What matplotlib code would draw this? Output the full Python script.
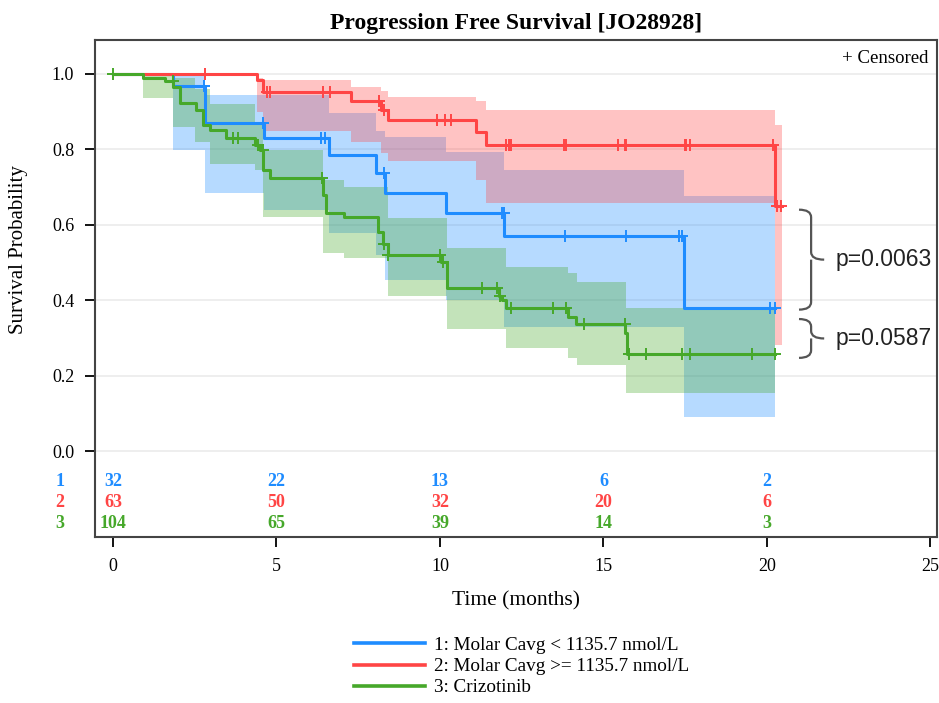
import numpy as np
import matplotlib
matplotlib.use('Agg')
import matplotlib.pyplot as plt
from matplotlib.path import Path
from matplotlib.patches import PathPatch
from matplotlib.lines import Line2D

plt.rcParams['font.family'] = ['Liberation Serif', 'DejaVu Serif']

# ── data ─────────────────────────────────────────────────────────────── #
# group 1: Molar Cavg < 1135.7
t1 = [0, 1.84, 2.8, 4.62, 6.6, 8.05, 8.33, 10.17, 11.97, 17.45]
s1 = [1.0, 0.969, 0.869, 0.829, 0.785, 0.738, 0.683, 0.630, 0.571, 0.380]
hi1 = [1.0, 0.995, 0.944, 0.944, 0.896, 0.85, 0.834, 0.794, 0.745, 0.675]
lo1 = [1.0, 0.798, 0.684, 0.64, 0.578, 0.52, 0.454, 0.40, 0.33, 0.091]
end1 = 20.26
cens1 = [2.78, 4.58, 6.37, 6.47, 8.3, 11.9, 11.95, 13.83, 15.68, 17.3, 17.4, 20.08, 20.24]

# group 2: Molar Cavg >= 1135.7
t2 = [0, 4.39, 4.6, 7.29, 8.2, 8.4, 11.1, 11.4, 20.26]
s2 = [1.0, 0.984, 0.952, 0.927, 0.905, 0.878, 0.845, 0.812, 0.65]
hi2 = [1.0, 0.99, 0.984, 0.966, 0.955, 0.94, 0.927, 0.904, 0.865]
lo2 = [1.0, 0.90, 0.85, 0.82, 0.79, 0.77, 0.72, 0.657, 0.281]
end2 = 20.47
cens2 = [2.8, 4.7, 4.8, 6.42, 6.63, 8.15, 8.3, 9.92, 10.15, 10.35, 12.02, 12.1, 12.17,
         13.8, 13.85, 15.45, 15.65, 15.7, 17.48, 17.52, 17.65, 20.18, 20.3, 20.42]

# group 3: Crizotinib
t3 = [0, 0.93, 1.59, 1.85, 2.05, 2.55, 2.76, 2.96, 3.47, 4.34, 4.5, 4.6, 4.79, 6.42,
      6.5, 7.08, 8.1, 8.25, 8.4, 10.04, 10.2, 11.8, 11.9, 12.02, 13.9, 14.16, 15.66, 15.72]
s3 = [1.0, 0.99, 0.98, 0.966, 0.922, 0.904, 0.865, 0.851, 0.829, 0.812, 0.798, 0.745,
      0.723, 0.68, 0.630, 0.62, 0.58, 0.55, 0.52, 0.502, 0.432, 0.41, 0.40, 0.378,
      0.356, 0.336, 0.312, 0.257]
bt3 = [0, 0.93, 1.84, 2.5, 2.96, 4.34, 4.6, 6.42, 7.08, 8.4, 10.2, 12.02, 13.9, 14.2, 15.7]
hi3 = [1.0, 1.0, 0.99, 0.96, 0.92, 0.865, 0.798, 0.72, 0.70, 0.617, 0.538, 0.489,
       0.471, 0.449, 0.378]
lo3 = [1.0, 0.935, 0.86, 0.82, 0.76, 0.745, 0.62, 0.524, 0.511, 0.41, 0.323, 0.272,
       0.246, 0.228, 0.153]
end3 = 20.26
cens3 = [0.0, 1.84, 3.67, 3.83, 4.45, 4.58, 6.4, 8.3, 8.42, 10.0, 10.1, 11.3, 11.75,
         11.85, 12.17, 13.45, 13.85, 14.41, 15.65, 15.77, 16.3, 17.41, 17.65, 19.55, 20.24]

risk_times = [0, 5, 10, 15, 20]
risk1 = [32, 22, 13, 6, 2]
risk2 = [63, 50, 32, 20, 6]
risk3 = [104, 65, 39, 14, 3]

labels = ['1: Molar Cavg < 1135.7 nmol/L', '2: Molar Cavg >= 1135.7 nmol/L', '3: Crizotinib']
p_values = ['p=0.0063', 'p=0.0587']

BLUE, RED, GREEN = '#1E8CFF', '#FF4545', '#46A82A'

groups = [
    (t1, s1, t1, lo1, hi1, end1, cens1, BLUE),
    (t2, s2, t2, lo2, hi2, end2, cens2, RED),
    (t3, s3, bt3, lo3, hi3, end3, cens3, GREEN),
]


def step_at(times, vals, q):
    idx = np.searchsorted(times, q, side='right') - 1
    return np.asarray(vals)[idx]


fig = plt.figure(figsize=(9.39, 7.03), dpi=100)
ax = fig.add_axes([95 / 939, 1 - 537 / 703, (937 - 95) / 939, (537 - 40) / 703])

# bands first
for t, s, bt, lo, hi, end, cens, c in groups:
    bx = np.append(bt, end)
    ax.fill_between(bx, np.append(lo, lo[-1]), np.append(hi, hi[-1]), step='post',
                    color=c, alpha=0.32, lw=0, zorder=2)

for t, s, bt, lo, hi, end, cens, c in groups:
    ax.step(np.append(t, end), np.append(s, s[-1]), where='post', color=c, lw=2.2, zorder=4)
    ax.plot(cens, step_at(t, s, np.array(cens)), '+', color=c, ms=9, mew=1.4, zorder=5)

# at-risk table
for row, (risk, c) in enumerate(zip([risk1, risk2, risk3], [BLUE, RED, GREEN])):
    yy = -0.08 - row * 0.0555
    ax.text(-1.62, yy, str(row + 1), color=c, fontsize=13, fontweight='bold',
            ha='center', va='center', clip_on=False)
    for xt, n in zip(risk_times, risk):
        ax.text(xt, yy, str(n), color=c, fontsize=13, fontweight='bold',
                ha='center', va='center')


# braces with p-values
def brace(ax, ytop, ybot, x0=20.98, xm=21.35, xt=21.75, r=0.02):
    mid = (ytop + ybot) / 2
    verts = [(x0, ytop), (xm, ytop), (xm, ytop - r), (xm, mid + r), (xm, mid), (xt, mid),
             (xm, mid), (xm, mid - r), (xm, ybot + r), (xm, ybot), (x0, ybot)]
    codes = [Path.MOVETO, Path.CURVE3, Path.CURVE3, Path.LINETO, Path.CURVE3, Path.CURVE3,
             Path.MOVETO, Path.CURVE3, Path.LINETO, Path.CURVE3, Path.CURVE3]
    ax.add_patch(PathPatch(Path(verts, codes), fill=False, ec='#555555', lw=1.6, zorder=6))
    return mid


m1 = brace(ax, s2[-1] - 0.01, s1[-1] - 0.005)
m2 = brace(ax, s1[-1] - 0.03, s3[-1] - 0.01)
for m, p in zip([m1, m2], p_values):
    ax.text(22.1, m, p, fontsize=16.5, family='Liberation Sans', color='#222222',
            ha='left', va='center')

ax.text(24.95, 1.042, '+ Censored', fontsize=13.5, ha='right', va='center')

ax.set_xlim(-0.55, 25.2)
ax.set_ylim(-0.228, 1.09)
ax.set_yticks([0, 0.2, 0.4, 0.6, 0.8, 1.0])
ax.set_yticklabels(['0.0', '0.2', '0.4', '0.6', '0.8', '1.0'])
ax.set_xticks(risk_times + [25])
ax.tick_params(direction='out', length=7, width=1.3, labelsize=13, pad=8)
ax.grid(axis='y', color='#ebebeb', lw=1.2, zorder=0)
ax.set_axisbelow(True)
for sp in ax.spines.values():
    sp.set_color('#444444')
    sp.set_linewidth(1.5)

ax.set_title('Progression Free Survival [JO28928]', fontsize=17, fontweight='bold', pad=8)
ax.set_xlabel('Time (months)', fontsize=15.5, labelpad=12)
ax.set_ylabel('Survival Probability', fontsize=15)
ax.yaxis.set_label_coords(-0.08, 0.578)

handles = [Line2D([], [], color=c, lw=2.6) for c in [BLUE, RED, GREEN]]
fig.legend(handles, labels, loc='upper left', bbox_to_anchor=(344 / 939, 1 - 627 / 703),
           frameon=False, fontsize=13.8, handlelength=3.7, handletextpad=0.5,
           labelspacing=0.2, borderpad=0)

fig.savefig('out.png', dpi=100)
